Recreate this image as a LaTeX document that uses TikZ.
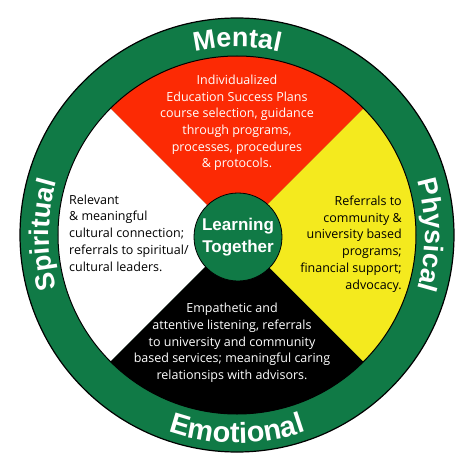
\documentclass[tikz,border=0pt]{standalone}
\usepackage{fontspec}
\setmainfont{Open Sans}
\newfontfamily\labfont{Liberation Sans}
\usetikzlibrary{decorations.text}
\definecolor{wgreen}{RGB}{16,122,70}
\definecolor{wred}{RGB}{252,42,4}
\definecolor{wyellow}{RGB}{244,234,30}
\tikzset{
  body/.style={font=\fontsize{12.5}{16.7}\selectfont, inner sep=0pt},
  ringlabel/.style={decorate, decoration={text along path, text align=center, text color=white}},
}
\newcommand{\labsty}{\labfont\bfseries\fontsize{27}{27}\selectfont}
\newcommand{\labstybig}{\labfont\bfseries\fontsize{29}{29}\selectfont}
\begin{document}
\begin{tikzpicture}[x=1pt,y=1pt]
\useasboundingbox (-237,-226) rectangle (237,235);
% ring
\fill[wgreen] (0,0) circle[radius=217];
\draw[black, line width=1.2] (0,0) circle[radius=217];
% sectors
\fill[wred] (0,0) -- (45:179) arc[start angle=45, end angle=135, radius=179] -- cycle;
\fill[white] (0,0) -- (135:179) arc[start angle=135, end angle=225, radius=179] -- cycle;
\fill[black] (0,0) -- (225:179) arc[start angle=225, end angle=315, radius=179] -- cycle;
\fill[wyellow] (0,0) -- (315:179) arc[start angle=315, end angle=405, radius=179] -- cycle;
\draw[black, line width=1] (0,0) circle[radius=179];
% centre
\node[circle, fill=wgreen, draw=black, line width=0.8, minimum size=88, inner sep=0pt,
      text=white, align=center, font=\labfont\bfseries\fontsize{17}{22}\selectfont] (centre) at (1,-2) {Learning\\Together};
% ring labels
\path[ringlabel, decoration={text={|\labsty|Mental}}] (120:188) arc[start angle=120, end angle=60, radius=188];
\path[ringlabel, decoration={text={|\labsty|Physical}}] (30:188) arc[start angle=30, end angle=-30, radius=188];
\path[ringlabel, decoration={text={|\labstybig|Emotional}}] (240:208) arc[start angle=240, end angle=300, radius=208];
\path[ringlabel, decoration={text={|\labsty|Spiritual}}] (210:188) arc[start angle=210, end angle=150, radius=188];
% quadrant texts
\node[body, text=white, align=center] (mental) at (0,112) {Individualized\\Education Success Plans\\course selection, guidance\\through programs,\\processes, procedures\\\& protocols.};
\node[body, text=black, align=left, anchor=west] (spiritual) at (-168,2) {Relevant\\\& meaningful\\cultural connection;\\referrals to spiritual/\\cultural leaders.};
\node[body, text=black, align=right, anchor=east] (physical) at (165,-9) {Referrals to\\community \&\\university based\\programs;\\financial support;\\advocacy.};
\node[body, text=white, align=center] (emotional) at (-5,-108) {Empathetic and\\attentive listening, referrals\\to university and community\\based services; meaningful caring\\relationsips with advisors.};
\end{tikzpicture}
\end{document}
